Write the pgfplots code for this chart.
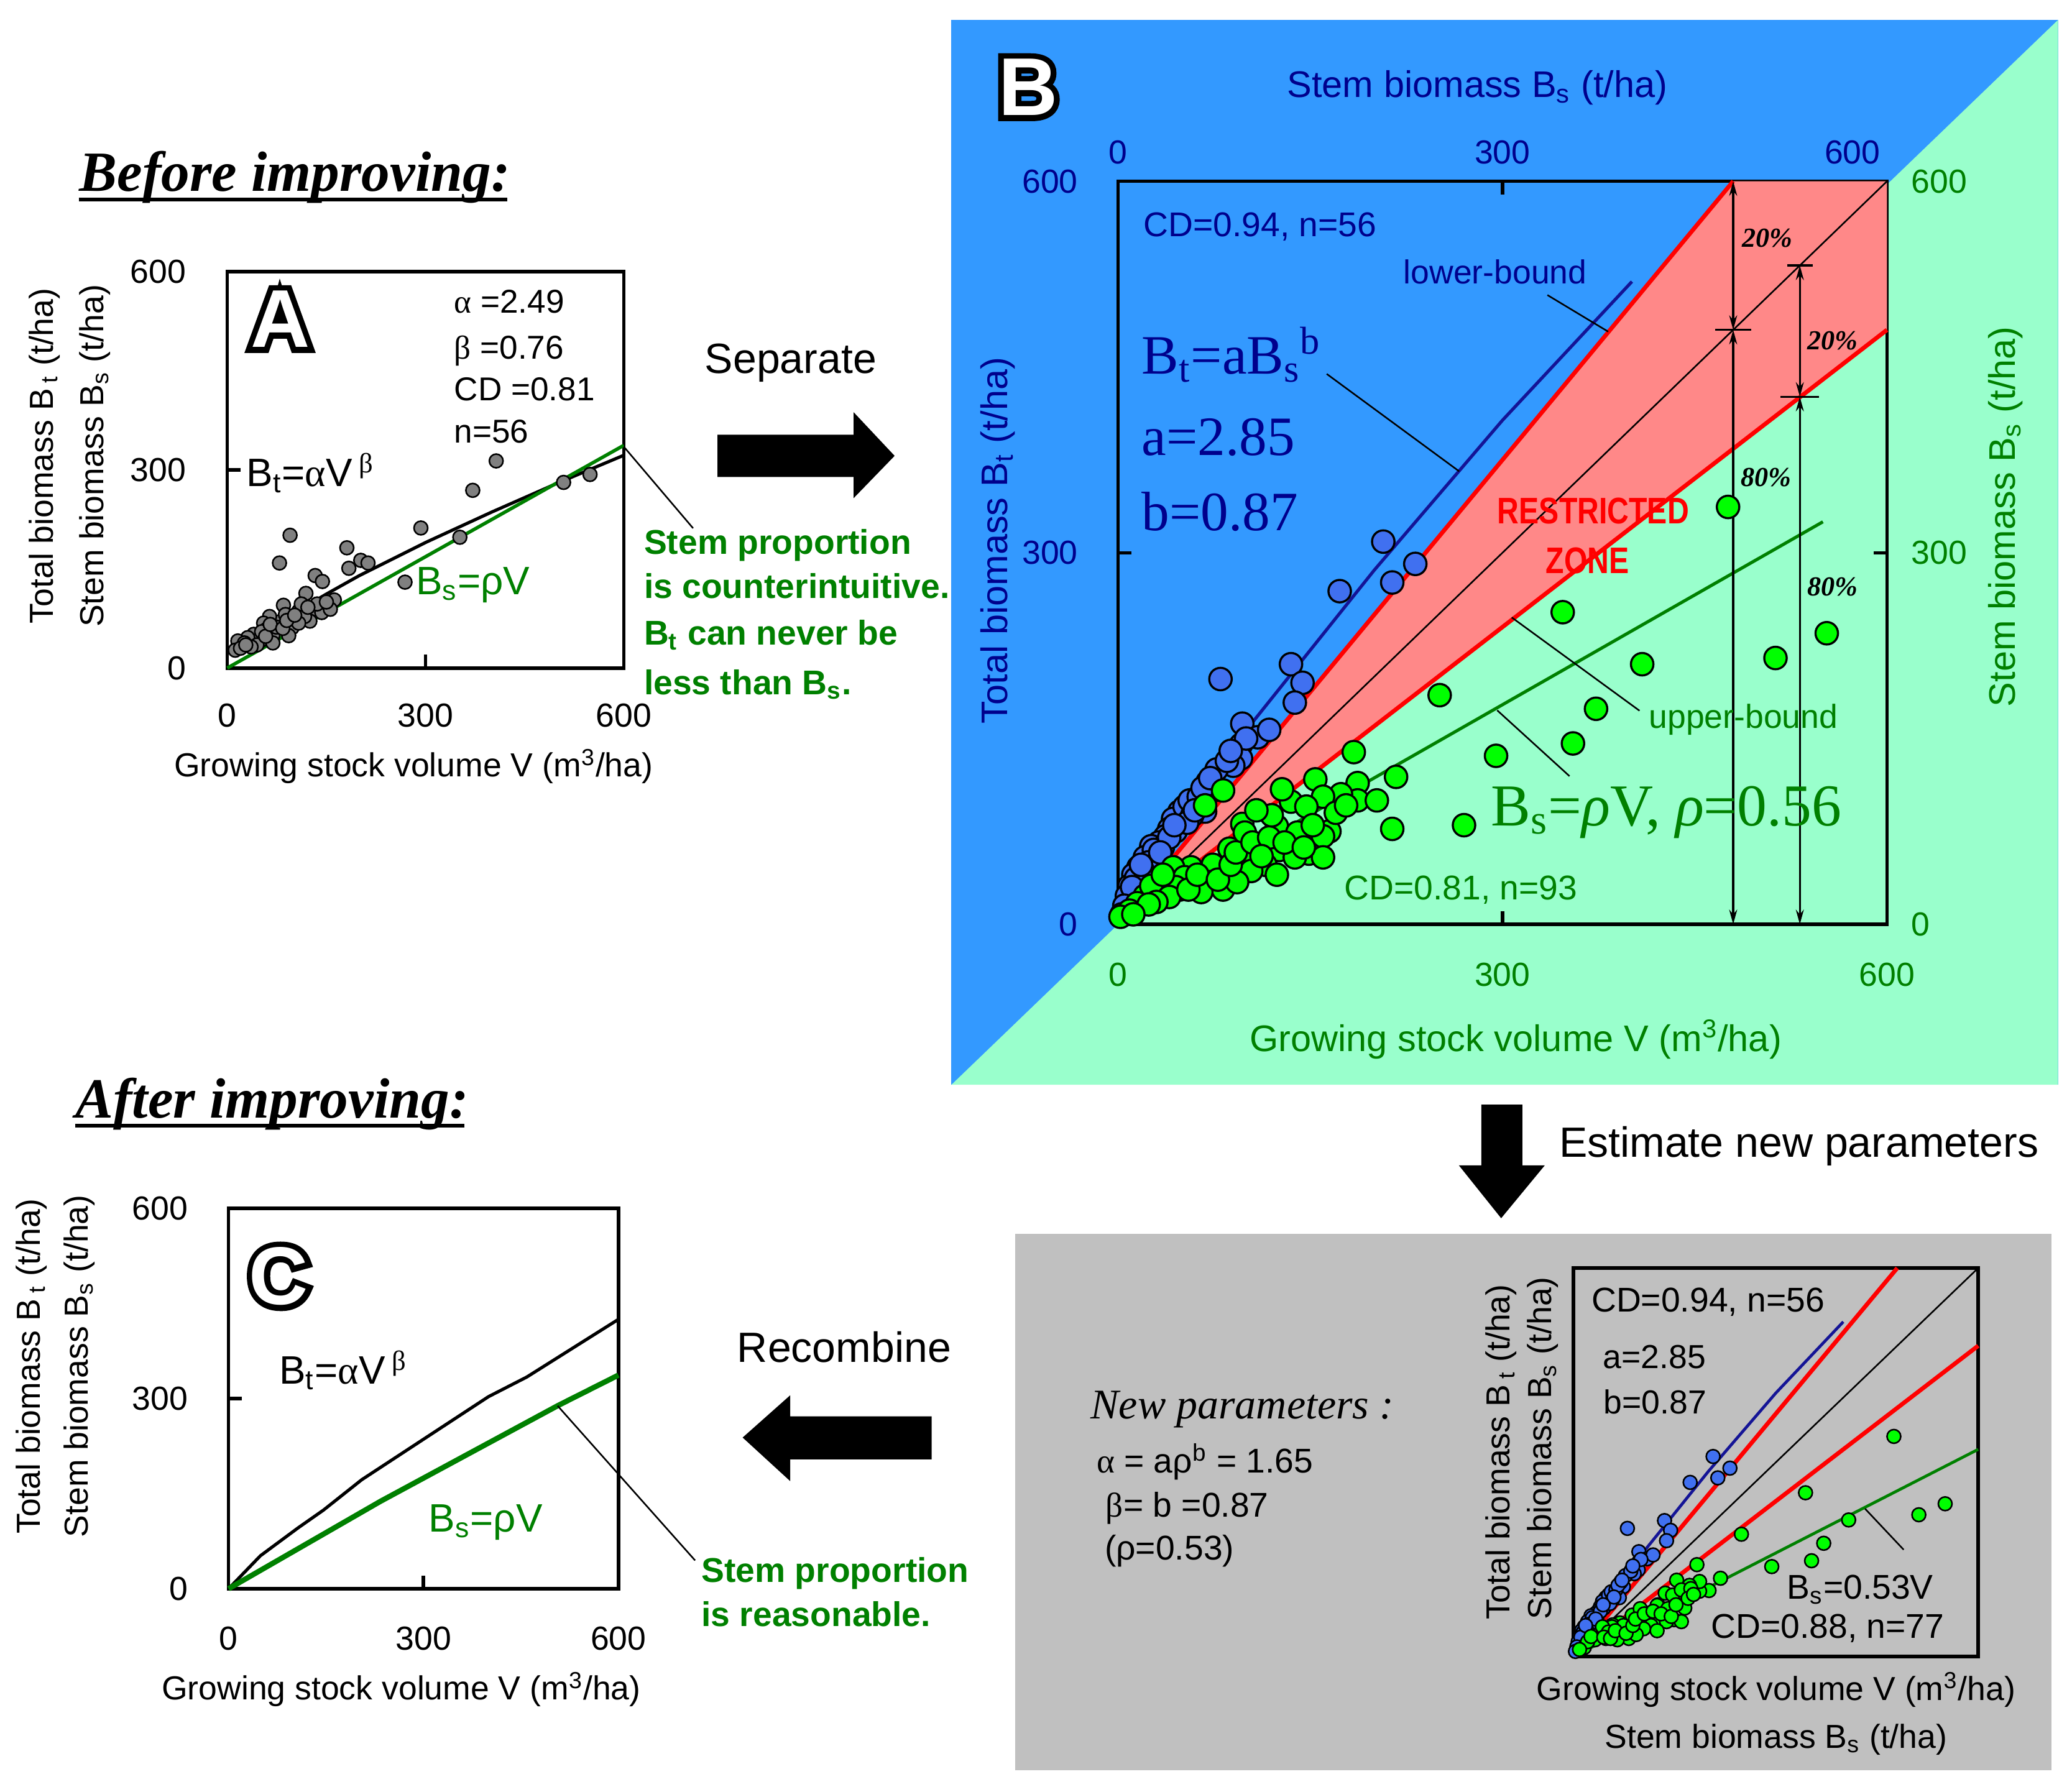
\documentclass[border=0pt]{standalone}
\usepackage{pgfplots}
\pgfplotsset{compat=1.18}
\usepackage{pgfplotstable}
\usepackage{fontspec}
\usepackage{graphicx}
\setmainfont{Liberation Sans}
\newfontfamily\timesf{Liberation Serif}
\newfontfamily\embf{Liberation Sans}[FakeBold=14]
\usetikzlibrary{arrows.meta}

\definecolor{bgblue}{RGB}{51,153,255}
\definecolor{bggreen}{RGB}{153,255,204}
\definecolor{zonepink}{RGB}{255,136,136}
\definecolor{navytxt}{RGB}{0,0,140}
\definecolor{blueline}{RGB}{20,20,150}
\definecolor{bluept}{RGB}{64,112,240}
\definecolor{greenpt}{RGB}{0,255,0}
\definecolor{dgreen}{RGB}{0,128,0}
\definecolor{graypt}{RGB}{128,128,128}
\definecolor{panelgray}{RGB}{192,192,192}

\newcommand\fs[1]{\fontsize{#1}{#1}\selectfont}
\newcommand\outlet[3]{%
  \node[text=black,inner sep=0pt] at (#1,#2) {\embf\fs{31}\bfseries #3};
  \node[text=white,inner sep=0pt] at (#1,#2) {\fs{31}\bfseries #3};}

% Panel A: total biomass vs volume
\pgfplotstableread{
x y
407 313.5
371.5 269
293 212
352 198
509 281
549 293
269 130
95 201
79 159
181 182
184 151
202 163
213 159
133 140
144 131
119 113
162 103
85 95
108 86
132 88
143 84
125 71
98 76
98 61
79 70
64 78
55 68
69 49
50 41
40 51
31 46
16 41
12 27
60 59
88 81
112 97
74 62
45 35
36 32
26 38
69 38
117 78
156 89
136 97
93 49
108 68
20 30
28 35
52 55
58 48
65 66
84 60
90 72
102 80
122 92
150 100
}\graydata

% Total biomass vs stem biomass
\pgfplotstableread{
x y
207 309
214 276
232 291
173 269
80 198
135 210
144 195
138 179
97 162
109 151
118 157
96 145
96 134
90 128
77 125
74 108
62 97
68 91
48 91
43 85
48 80
40 77
37 71
32 66
26 63
21 54
16 46
12 40
9 31
7 23
52 95
56 100
58 88
63 103
45 75
35 62
30 55
28 60
24 50
19 44
14 37
11 30
5 15
70 115
85 132
100 150
88 140
66 110
54 82
40 70
33 58
18 48
3 8
60 92
72 118
44 80
}\bluedata

% Stem biomass vs volume (panel B)
\pgfplotstableread{
x y
476 337
347 252
553 235
513 215
409 210
251 185
373 174
355 146
295 136
184 139
217 119
270 80
214 77
154 117
187 114
187 100
202 100
174 105
160 103
135 99
147 95
128 109
82 108
68 96
97 81
87 61
124 79
140 74
165 75
160 71
149 57
160 54
110 63
126 60
138 54
99 54
115 48
104 43
85 40
74 48
71 34
57 46
60 34
37 34
43 46
48 28
32 26
21 23
26 31
15 17
9 11
2 6
82 28
65 26
93 34
124 40
99 74
52 38
45 30
40 22
30 18
55 28
62 40
78 36
88 48
92 58
105 66
118 70
112 55
130 66
145 62
152 80
170 90
178 96
120 88
108 92
35 40
24 16
12 8
}\greendata

% Stem biomass vs volume (panel D subset)
\pgfplotstableread{
x y
475 340
344 253
551 236
512 219
408 211
249 189
371 175
353 148
294 139
183 142
218 121
201 102
187 101
187 116
153 118
172 110
136 98
153 86
163 80
143 70
125 80
113 64
87 64
69 52
58 49
40 31
16 14
147 95
160 103
174 105
124 79
140 74
165 75
149 57
160 54
110 63
126 60
138 54
99 54
115 48
104 43
85 40
74 48
71 34
57 46
60 34
37 34
43 46
48 28
32 26
21 23
26 31
9 11
82 28
65 26
93 34
124 40
99 74
52 38
45 30
55 28
62 40
78 36
88 48
92 58
105 66
118 70
130 66
145 62
152 80
170 90
178 96
}\greendataD

\pgfplotsset{
  panel/.style={scale only axis, xmin=0, xmax=600, ymin=0, ymax=600,
    anchor=south west, clip=false,
    axis line style={line width=1.3pt},
    tick align=inside, major tick length=5pt,
    tick style={line width=1.3pt, black},
    xtick={0,300,600}, ytick={0,300,600},
    /pgf/number format/assume math mode=true,
    tick label style={font=\fs{12.6}}},
}

\begin{document}
\begin{tikzpicture}
% ---------- backgrounds ----------
\begin{scope}[x=0.5pt,y=-0.5pt]
  \useasboundingbox (0,0) rectangle (1568,1356);
  \fill[white] (0,0) rectangle (1568,1356);
  \fill[bgblue] (720,15) rectangle (1557.5,821);
  \fill[bggreen] (1557.5,15) -- (1557.5,821) -- (720,821) -- cycle;
  \fill[panelgray] (768,934) rectangle (1552.5,1340);
\end{scope}

% ---------- Panel A ----------
\begin{axis}[panel, at={(86pt,-252.8pt)}, width=150pt, height=150pt, tick pos=left,
  xticklabel style={anchor=base, yshift=-22.2pt},
  yticklabel style={anchor=east, inner sep=0pt, xshift=-15.5pt}]
  \addplot[only marks, mark=*, mark size=2.6pt, mark options={fill=graypt, draw=black, line width=0.6pt}] table {\graydata};
  \addplot[black, line width=1.2pt] coordinates {(15,19.5) (50,48.7) (100,82.5) (150,112) (200,140) (300,190) (400,236) (500,280) (600,322)};
  \addplot[dgreen, line width=1.3pt] coordinates {(0,0) (600,337)};
\end{axis}

% ---------- Panel B ----------
\begin{axis}[panel, at={(423pt,-349.75pt)}, width=291pt, height=281.15pt,
  xticklabel style={anchor=base, yshift=-23.5pt, text=dgreen},
  yticklabel style={anchor=east, inner sep=0pt, xshift=-15pt, text=navytxt}]
  \addplot[fill=zonepink, draw=none] coordinates {(0,0) (480,600) (600,600) (600,480) (0,0)};
  \addplot[black, line width=0.6pt] coordinates {(0,0) (600,600)};
  \addplot[red, line width=1.6pt] coordinates {(0,0) (480,600)};
  \addplot[red, line width=1.6pt] coordinates {(0,0) (600,480)};
  \addplot[blueline, line width=1.2pt] coordinates {(5,11.6) (20,38.6) (50,85.7) (100,156.6) (200,286) (300,407) (401,519)};
  \addplot[dgreen, line width=1.2pt] coordinates {(0,0) (550,325)};
  \addplot[only marks, mark=*, mark size=4.25pt, mark options={fill=bluept, draw=black, line width=0.8pt}] table {\bluedata};
  \addplot[only marks, mark=*, mark size=4.25pt, mark options={fill=greenpt, draw=black, line width=0.8pt}] table {\greendata};
  \draw[line width=0.8pt, {Stealth[length=5.5pt,width=3pt]}-{Stealth[length=5.5pt,width=3pt]}] (axis cs:480,600) -- (axis cs:480,480);
  \draw[line width=0.8pt, {Stealth[length=5.5pt,width=3pt]}-{Stealth[length=5.5pt,width=3pt]}] (axis cs:480,480) -- (axis cs:480,0);
  \draw[line width=0.8pt, {Stealth[length=5.5pt,width=3pt]}-{Stealth[length=5.5pt,width=3pt]}] (axis cs:532,532) -- (axis cs:532,426);
  \draw[line width=0.8pt, {Stealth[length=5.5pt,width=3pt]}-{Stealth[length=5.5pt,width=3pt]}] (axis cs:532,426) -- (axis cs:532,0);
  \draw[line width=0.8pt] (axis cs:466,480) -- (axis cs:494,480);
  \draw[line width=0.8pt] (axis cs:522,532) -- (axis cs:542,532);
  \draw[line width=0.8pt] (axis cs:517,426) -- (axis cs:547,426);
\end{axis}
\begin{axis}[panel, at={(423pt,-349.75pt)}, width=291pt, height=281.15pt,
  axis line style={draw=none}, major tick length=0pt,
  xticklabel pos=right, yticklabel pos=right,
  xtick={0,300,573}, xticklabels={0,300,600},
  xticklabel style={anchor=base, yshift=6.65pt, text=navytxt},
  yticklabel style={anchor=west, inner sep=0pt, xshift=9pt, text=dgreen}]
  \addplot[draw=none] coordinates {(0,0)};
\end{axis}

% ---------- Panel C ----------
\begin{axis}[panel, at={(86.5pt,-601.2pt)}, width=147.5pt, height=143.9pt, tick pos=left,
  xticklabel style={anchor=base, yshift=-23.1pt},
  yticklabel style={anchor=east, inner sep=0pt, xshift=-15.2pt}]
  \addplot[black, line width=1.2pt] coordinates {(0,0) (49,52) (107,96) (146,124) (205,172) (400,303) (459,334) (600,425)};
  \addplot[dgreen, line width=2pt] coordinates {(0,0) (234,138) (507,289) (600,337)};
\end{axis}

% ---------- Panel D ----------
\begin{axis}[panel, at={(595.35pt,-626.9pt)}, width=153.15pt, height=147.05pt,
  xtick=\empty, ytick=\empty]
  \addplot[black, line width=0.6pt] coordinates {(0,0) (600,600)};
  \addplot[red, line width=1.6pt] coordinates {(0,0) (480,600)};
  \addplot[red, line width=1.6pt] coordinates {(0,0) (600,480)};
  \addplot[blueline, line width=1.1pt] coordinates {(5,11.6) (20,38.6) (50,85.7) (100,156.6) (200,286) (300,407) (400,517)};
  \addplot[dgreen, line width=1.1pt] coordinates {(0,0) (600,320)};
  \addplot[only marks, mark=*, mark size=2.6pt, mark options={fill=bluept, draw=black, line width=0.6pt}] table {\bluedata};
  \addplot[only marks, mark=*, mark size=2.6pt, mark options={fill=greenpt, draw=black, line width=0.6pt}] table {\greendataD};
\end{axis}

% ---------- annotations ----------
\begin{scope}[x=0.5pt,y=-0.5pt]
  % headings
  \node[anchor=base west, inner sep=0pt, font=\fs{21.5}\timesf\bfseries\itshape] at (59.6,144.8) {Before improving:};
  \draw[line width=1.4pt] (59.6,150.8) -- (384,150.8);
  \node[anchor=base west, inner sep=0pt, font=\fs{21.5}\timesf\bfseries\itshape] at (56.7,845.9) {After improving:};
  \draw[line width=1.4pt] (56.7,851.8) -- (351.4,851.8);

  % panel letters
  \outlet{212}{241.5}{A}
  \outlet{778}{66}{B}
  \outlet{211}{966}{C}

  % ---- Panel A texts ----
  \node[rotate=90, inner sep=0pt, font=\fs{12.6}] at (33.6,345) {Total biomass B\,\textsubscript{t} (t/ha)};
  \node[rotate=90, inner sep=0pt, font=\fs{12.6}] at (72,345) {Stem biomass B\textsubscript{s} (t/ha)};
  \node[anchor=base, inner sep=0pt, font=\fs{12.6}] at (313,588) {Growing stock volume V (m\textsuperscript{3}/ha)};
  \node[anchor=base west, inner sep=0pt, font=\fs{12.5}] at (343.4,237) {{\timesf α} =2.49};
  \node[anchor=base west, inner sep=0pt, font=\fs{12.5}] at (343.4,271.5) {{\timesf β} =0.76};
  \node[anchor=base west, inner sep=0pt, font=\fs{12.5}] at (343.4,303.3) {CD =0.81};
  \node[anchor=base west, inner sep=0pt, font=\fs{12.5}] at (343.4,335.3) {n=56};
  \node[anchor=base west, inner sep=0pt, font=\fs{15}] at (186.2,368.3) {B\textsubscript{t}={\timesf α}V\,\textsuperscript{\timesf β}};
  \node[anchor=base west, inner sep=0pt, font=\fs{15}, text=dgreen] at (314.4,450) {B\textsubscript{s}=ρV};
  \draw[line width=0.6pt] (472,338) -- (524.5,399.8);
  \node[anchor=base west, inner sep=0pt, font=\fs{13}\bfseries, text=dgreen] at (487,419.6) {Stem proportion};
  \node[anchor=base west, inner sep=0pt, font=\fs{13}\bfseries, text=dgreen] at (487,452.9) {is counterintuitive.};
  \node[anchor=base west, inner sep=0pt, font=\fs{13}\bfseries, text=dgreen] at (487,488) {B\textsubscript{t} can never be};
  \node[anchor=base west, inner sep=0pt, font=\fs{13}\bfseries, text=dgreen] at (487,525.5) {less than B\textsubscript{s}.};

  % arrows and step labels
  \fill (543,329) -- (646,329) -- (646,312) -- (677,345) -- (646,377) -- (646,361) -- (543,361) -- cycle;
  \node[anchor=base west, inner sep=0pt, font=\fs{16}] at (533,282.7) {Separate};
  \fill (1121,836) -- (1152,836) -- (1152,882) -- (1169,882) -- (1136,922) -- (1104,882) -- (1121,882) -- cycle;
  \node[anchor=base west, inner sep=0pt, font=\fs{16}] at (1179.5,875.8) {Estimate new parameters};
  \fill (705,1072) -- (598,1072) -- (598,1056) -- (562,1088) -- (598,1121) -- (598,1104.5) -- (705,1104.5) -- cycle;
  \node[anchor=base west, inner sep=0pt, font=\fs{16}] at (557.5,1031) {Recombine};

  % ---- Panel B texts ----
  \node[anchor=base, inner sep=0pt, font=\fs{14}, text=navytxt] at (1118,73.7) {Stem biomass B\textsubscript{s} (t/ha)};
  \node[rotate=90, inner sep=0pt, font=\fs{14}, text=navytxt] at (755,409) {Total biomass B\textsubscript{t} (t/ha)};
  \node[rotate=90, inner sep=0pt, font=\fs{14}, text=dgreen] at (1517.7,391) {Stem biomass B\textsubscript{s} (t/ha)};
  \node[anchor=base, inner sep=0pt, font=\fs{14}, text=dgreen] at (1147,795.7) {Growing stock volume V (m\textsuperscript{3}/ha)};
  \node[anchor=base west, inner sep=0pt, font=\fs{13}, text=navytxt] at (865,178.9) {CD=0.94, n=56};
  \node[anchor=base west, inner sep=0pt, font=\fs{12.6}, text=navytxt] at (1061.7,214.7) {lower-bound};
  \draw[line width=0.6pt] (1171,223.3) -- (1217,251);
  \node[anchor=base west, inner sep=0pt, font=\fs{21}\timesf, text=navytxt] at (863.7,283) {B\textsubscript{t}=aB\textsubscript{s}\textsuperscript{b}};
  \node[anchor=base west, inner sep=0pt, font=\fs{21}\timesf, text=navytxt] at (863.7,344.5) {a=2.85};
  \node[anchor=base west, inner sep=0pt, font=\fs{21}\timesf, text=navytxt] at (863.7,401.6) {b=0.87};
  \draw[line width=0.6pt] (1004,283) -- (1104.2,356.7);
  \node[anchor=base, inner sep=0pt, text=red] at (1205.7,396.4) {\scalebox{0.81}[1]{\fs{14}\bfseries RESTRICTED}};
  \node[anchor=base, inner sep=0pt, text=red] at (1201.4,434) {\scalebox{0.81}[1]{\fs{14}\bfseries ZONE}};
  \node[anchor=base west, inner sep=0pt, font=\fs{12.6}, text=dgreen] at (1247.5,551.2) {upper-bound};
  \draw[line width=0.6pt] (1144,467.3) -- (1240.7,537.9);
  \node[anchor=base west, inner sep=0pt, font=\fs{22.5}\timesf, text=dgreen] at (1128,624.8) {B\textsubscript{s}=\textit{ρ}V, \textit{ρ}=0.56};
  \draw[line width=0.6pt] (1133,537.6) -- (1187.7,587.4);
  \node[anchor=base west, inner sep=0pt, font=\fs{13}, text=dgreen] at (1017,680.9) {CD=0.81, n=93};
  \node[font=\fs{10.4}\timesf\bfseries\itshape] at (1337.6,180.3) {20\%};
  \node[font=\fs{10.4}\timesf\bfseries\itshape] at (1387,258) {20\%};
  \node[font=\fs{10.4}\timesf\bfseries\itshape] at (1336.6,361.5) {80\%};
  \node[font=\fs{10.4}\timesf\bfseries\itshape] at (1386.8,444.3) {80\%};

  % ---- Panel C texts ----
  \node[rotate=90, inner sep=0pt, font=\fs{12.6}] at (24,1034) {Total biomass B\,\textsubscript{t} (t/ha)};
  \node[rotate=90, inner sep=0pt, font=\fs{12.6}] at (60,1034) {Stem biomass B\textsubscript{s} (t/ha)};
  \node[anchor=base, inner sep=0pt, font=\fs{12.6}] at (303.6,1286.6) {Growing stock volume V (m\textsuperscript{3}/ha)};
  \node[anchor=base west, inner sep=0pt, font=\fs{15}] at (211,1047.3) {B\textsubscript{t}={\timesf α}V\,\textsuperscript{\timesf β}};
  \node[anchor=base west, inner sep=0pt, font=\fs{15}, text=dgreen] at (324,1159.5) {B\textsubscript{s}=ρV};
  \draw[line width=0.6pt] (422,1064) -- (526,1181);
  \node[anchor=base west, inner sep=0pt, font=\fs{13}\bfseries, text=dgreen] at (530.5,1197.5) {Stem proportion};
  \node[anchor=base west, inner sep=0pt, font=\fs{13}\bfseries, text=dgreen] at (530.5,1231.1) {is reasonable.};

  % ---- Panel D texts ----
  \node[anchor=base west, inner sep=0pt, font=\fs{16}\timesf\itshape] at (825,1073.6) {New parameters :};
  \node[anchor=base west, inner sep=0pt, font=\fs{13}] at (829.5,1114.5) {{\timesf α} = aρ\textsuperscript{b} = 1.65};
  \node[anchor=base west, inner sep=0pt, font=\fs{13}] at (836.5,1148.3) {{\timesf β}= b =0.87};
  \node[anchor=base west, inner sep=0pt, font=\fs{13}] at (835.6,1180.7) {(ρ=0.53)};
  \node[rotate=90, inner sep=0pt, font=\fs{12.6}] at (1136,1099) {Total biomass B\,\textsubscript{t} (t/ha)};
  \node[rotate=90, inner sep=0pt, font=\fs{12.6}] at (1167.6,1096) {Stem biomass B\textsubscript{s} (t/ha)};
  \node[anchor=base, inner sep=0pt, font=\fs{12.6}] at (1344,1286.7) {Growing stock volume V (m\textsuperscript{3}/ha)};
  \node[anchor=base, inner sep=0pt, font=\fs{12.6}] at (1344,1323) {Stem biomass B\textsubscript{s} (t/ha)};
  \node[anchor=base west, inner sep=0pt, font=\fs{13}] at (1204,992.7) {CD=0.94, n=56};
  \node[anchor=base west, inner sep=0pt, font=\fs{12.6}] at (1212.7,1035.7) {a=2.85};
  \node[anchor=base west, inner sep=0pt, font=\fs{12.6}] at (1213.3,1069.8) {b=0.87};
  \node[anchor=base west, inner sep=0pt, font=\fs{13}] at (1352,1210.3) {B\textsubscript{s}=0.53V};
  \node[anchor=base west, inner sep=0pt, font=\fs{13}] at (1294.5,1239.7) {CD=0.88, n=77};
  \draw[line width=0.6pt] (1411.4,1141.9) -- (1440.6,1172.9);
\end{scope}
\end{tikzpicture}
\end{document}
